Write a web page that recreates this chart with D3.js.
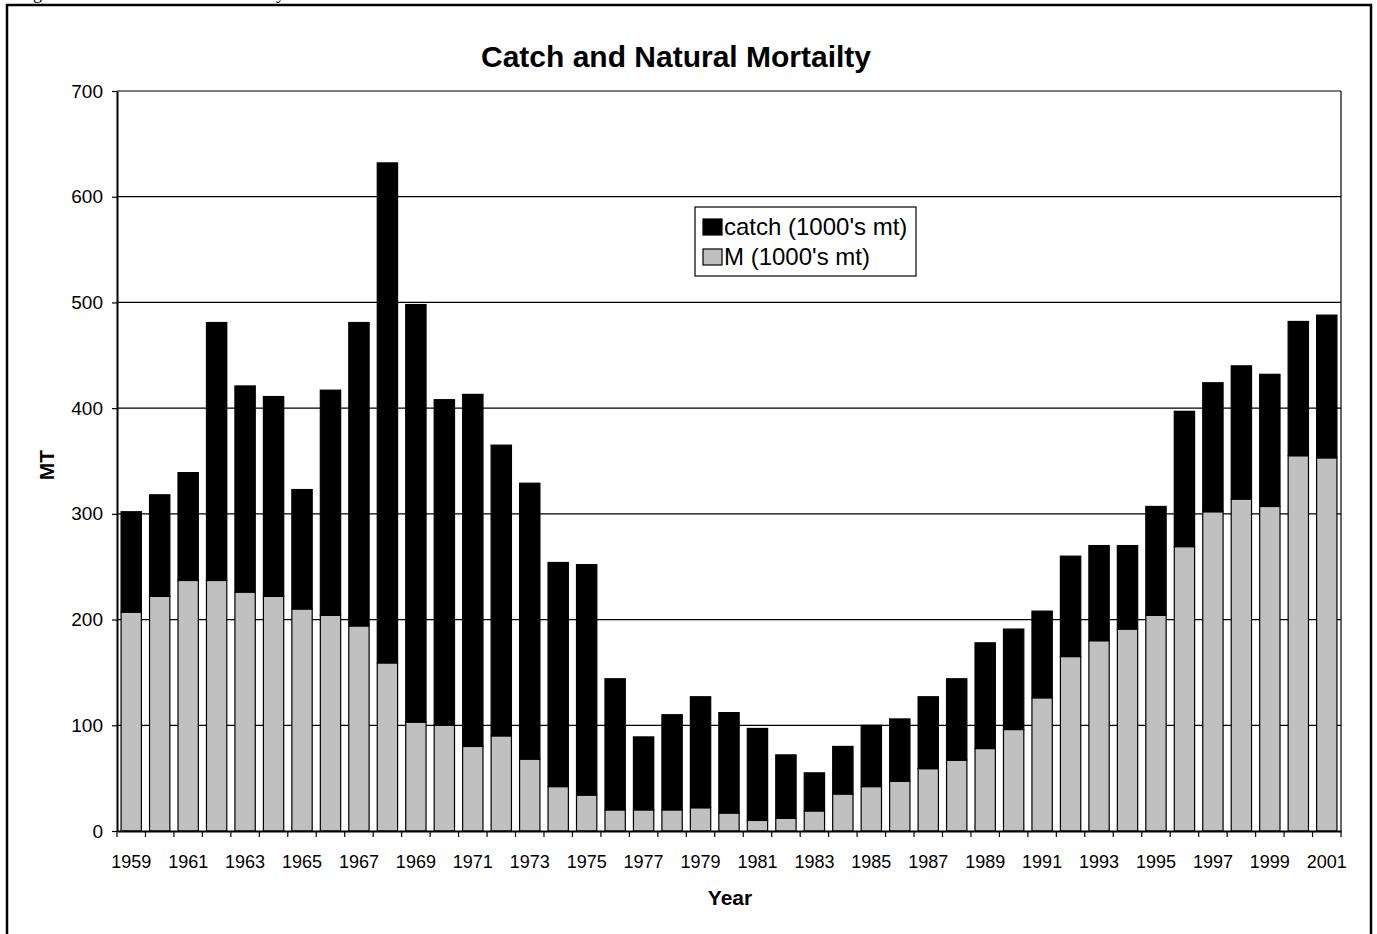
<!DOCTYPE html>
<html>
<head>
<meta charset="utf-8">
<script src="https://cdn.jsdelivr.net/npm/d3@7"></script>
<style>
html, body { margin: 0; padding: 0; background: #fff; }
svg { display: block; font-family: Arial, "Liberation Sans", sans-serif; }
</style>
</head>
<body>
<svg id="chart" width="1377" height="934"></svg>
<script>
(function() {

// data (1000's mt)
const years = [1959, 1960, 1961, 1962, 1963, 1964, 1965, 1966, 1967, 1968,
  1969, 1970, 1971, 1972, 1973, 1974, 1975, 1976, 1977, 1978,
  1979, 1980, 1981, 1982, 1983, 1984, 1985, 1986, 1987, 1988,
  1989, 1990, 1991, 1992, 1993, 1994, 1995, 1996, 1997, 1998,
  1999, 2000, 2001];

const mortality = [207, 222, 237, 237, 226, 222, 210, 204, 194, 159,
  103, 100, 80, 90, 68, 42, 34, 20, 20, 20,
  22, 17, 10, 12, 19, 35, 42, 47, 59, 67,
  78, 96, 126, 165, 180, 191, 204, 269, 302, 314,
  307, 355, 353];

const catchTons = [95, 96, 102, 244, 195, 189, 113, 213, 287, 473,
  395, 308, 333, 275, 261, 212, 218, 124, 69, 90,
  105, 95, 87, 60, 36, 45, 58, 59, 68, 77,
  100, 95, 82, 95, 90, 79, 103, 128, 122, 126,
  125, 127, 135];

const seriesKeys = ['M', 'catch'];
const seriesColors = {M: '#c0c0c0', catch: '#000000'};
const legendKeys = ['catch', 'M'];
const legendLabels = ["catch (1000's mt)", "M (1000's mt)"];
const yTicks = [0, 100, 200, 300, 400, 500, 600, 700];

const svg = d3.select('#chart');
const left = 117, right = 1341, top = 91, bottom = 831;

// caption of the page, cut off at the top of the picture
svg.append('text')
  .attr('x', 18)
  .attr('y', -1)
  .style('font-family', '"Liberation Serif", "Times New Roman", serif')
  .style('font-size', '18px')
  .text('Figure 9.  Catch and natural mortality');

// chart frame
svg.append('rect')
  .attr('x', 7).attr('y', 5)
  .attr('width', 1364).attr('height', 960)
  .attr('fill', 'none')
  .attr('stroke', '#000')
  .attr('stroke-width', 2.5);

const rows = years.map((yr, i) => ({year: yr, M: mortality[i], catch: catchTons[i]}));
const stacked = d3.stack().keys(seriesKeys)(rows);

const x = d3.scaleBand()
  .domain(years)
  .range([left, right])
  .paddingInner(0.4 / 1.4)
  .paddingOuter(0.2 / 1.4);

const y = d3.scaleLinear()
  .domain([0, 700])
  .range([bottom, top]);

// gridlines
svg.append('g')
  .selectAll('line')
  .data(yTicks.filter(d => d > 0))
  .enter().append('line')
    .attr('x1', left).attr('x2', right)
    .attr('y1', d => y(d)).attr('y2', d => y(d))
    .attr('stroke', '#000')
    .attr('stroke-width', 1.2);

// plot area right edge
svg.append('line')
  .attr('x1', right).attr('x2', right)
  .attr('y1', top).attr('y2', bottom)
  .attr('stroke', '#000')
  .attr('stroke-width', 1.2);

// stacked bars
svg.append('g')
  .selectAll('g')
  .data(stacked)
  .enter().append('g')
    .attr('fill', d => seriesColors[d.key])
  .selectAll('rect')
  .data(d => d)
  .enter().append('rect')
    .attr('x', d => x(d.data.year))
    .attr('y', d => y(d[1]))
    .attr('width', x.bandwidth())
    .attr('height', d => y(d[0]) - y(d[1]))
    .attr('stroke', '#000')
    .attr('stroke-width', 1.2);

// y axis
const yAxis = svg.append('g')
  .attr('transform', `translate(${left},0)`)
  .call(d3.axisLeft(y).tickValues(yTicks).tickSize(5).tickPadding(9).tickSizeOuter(0));
yAxis.select('.domain').attr('stroke-width', 2);
yAxis.selectAll('.tick line').attr('stroke-width', 1.2);
yAxis.selectAll('text').style('font-size', '19px').attr('fill', '#000');

// x axis
const xAxis = svg.append('g')
  .attr('transform', `translate(0,${bottom})`)
  .call(d3.axisBottom(x)
    .tickValues(years.filter((d, i) => i % 2 === 0))
    .tickSize(0)
    .tickPadding(24)
    .tickSizeOuter(0));
xAxis.select('.domain').attr('stroke-width', 2);
xAxis.selectAll('text').style('font-size', '18px').attr('fill', '#000');

// category boundary tick marks
xAxis.append('g')
  .selectAll('line')
  .data(d3.range(years.length + 1))
  .enter().append('line')
    .attr('x1', i => left + i * x.step())
    .attr('x2', i => left + i * x.step())
    .attr('y1', 0).attr('y2', 6)
    .attr('stroke', '#000')
    .attr('stroke-width', 1.2);

// titles
svg.append('text')
  .attr('x', 676).attr('y', 67)
  .attr('text-anchor', 'middle')
  .style('font-size', '30px')
  .style('font-weight', 'bold')
  .text('Catch and Natural Mortailty');

svg.append('text')
  .attr('x', 730).attr('y', 905)
  .attr('text-anchor', 'middle')
  .style('font-size', '21px')
  .style('font-weight', 'bold')
  .text('Year');

svg.append('text')
  .attr('transform', 'translate(54,465) rotate(-90)')
  .attr('text-anchor', 'middle')
  .style('font-size', '21px')
  .style('font-weight', 'bold')
  .text('MT');

// legend
const legend = svg.append('g');
legend.append('rect')
  .attr('x', 695).attr('y', 207)
  .attr('width', 221).attr('height', 69)
  .attr('fill', '#fff')
  .attr('stroke', '#000')
  .attr('stroke-width', 1.2);

const item = legend.selectAll('.item')
  .data(legendKeys)
  .enter().append('g')
    .attr('class', 'item')
    .attr('transform', (d, i) => `translate(703,${235 + i * 30})`);

item.append('rect')
  .attr('x', 0).attr('y', -16)
  .attr('width', 19).attr('height', 16)
  .attr('fill', d => seriesColors[d])
  .attr('stroke', '#000')
  .attr('stroke-width', 1.2);

item.append('text')
  .attr('x', 21).attr('y', 0)
  .style('font-size', '24px')
  .text((d, i) => legendLabels[i]);

})();
</script>
</body>
</html>
